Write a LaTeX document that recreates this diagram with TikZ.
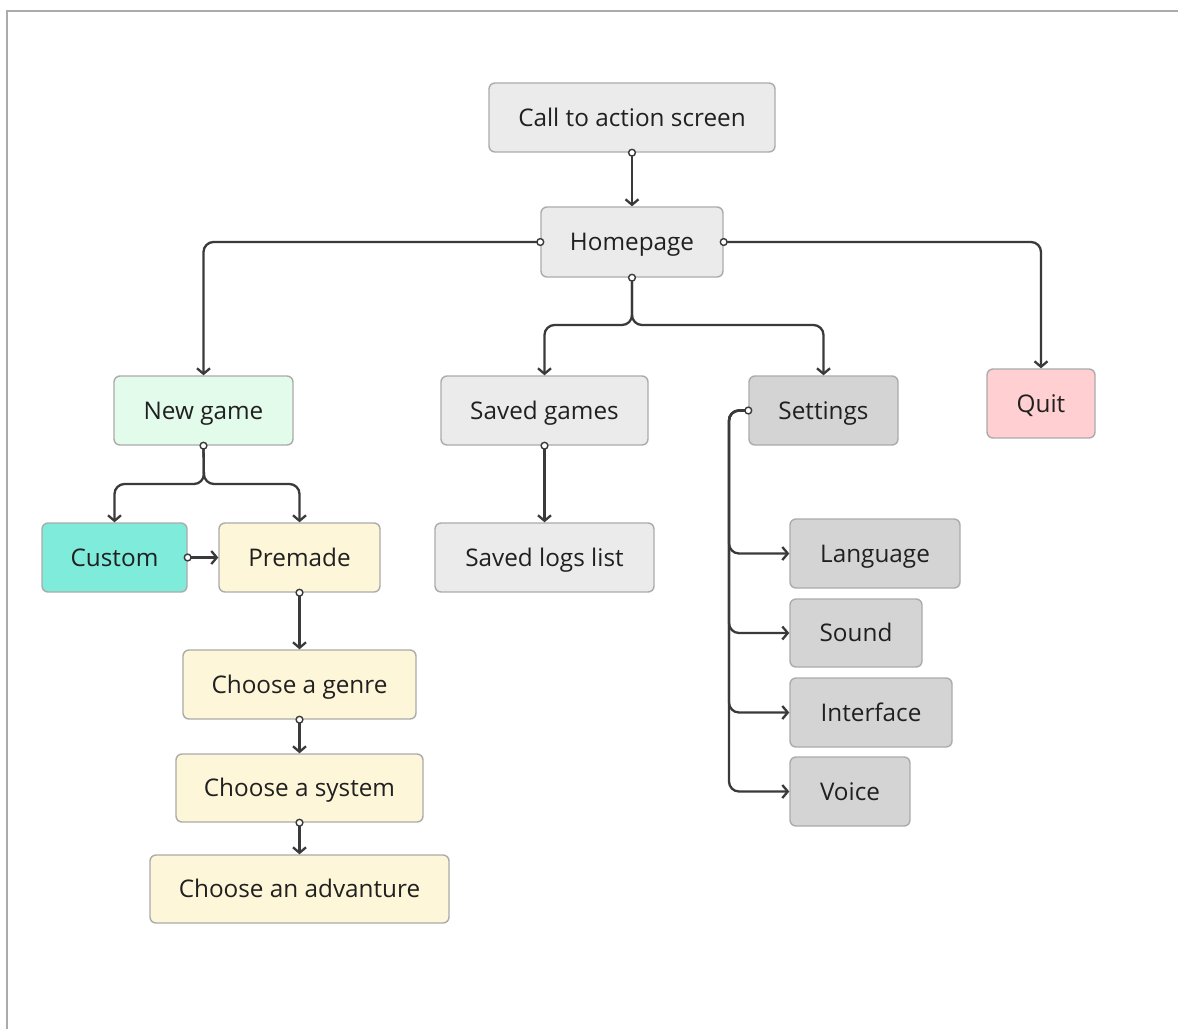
\documentclass[tikz,border=0pt]{standalone}
\usepackage{fontspec}
\setmainfont{Open Sans}
\usetikzlibrary{arrows.meta}
\definecolor{lgray}{HTML}{EBEBEB}
\definecolor{mgray}{HTML}{D4D4D4}
\definecolor{bord}{HTML}{ABABAB}
\definecolor{lgreen}{HTML}{E3FBEA}
\definecolor{teal}{HTML}{7EEBDB}
\definecolor{lyellow}{HTML}{FDF6D8}
\definecolor{pink}{HTML}{FFCFD1}
\definecolor{linec}{HTML}{3A3A3A}
\definecolor{txt}{HTML}{202020}
\tikzset{
  box/.style={draw=bord, line width=1.4pt, rounded corners=6pt, inner sep=0pt,
    text=txt, font=\fontsize{24.3}{28}\selectfont, anchor=center,
    text height=17pt, text depth=0pt},
  conn/.style={draw=linec, line width=2.3pt, rounded corners=10pt,
    -{Straight Barb[length=5.5pt,width=13pt]}},
  dot/.style={draw=linec, fill=white, line width=1.4pt},
}
\newcommand{\sdot}[1]{\filldraw[dot] (#1) circle (3.4pt);}
\begin{document}
\begin{tikzpicture}[x=1pt,y=-1pt]
\useasboundingbox (0,0) rectangle (1178,1029);
\draw[bord, line width=2pt] (7,1029) -- (7,11) -- (1178,11);

\node[box, fill=lgray, minimum width=286pt, minimum height=69pt] (cta) at (632,117.5) {Call to action screen};
\node[box, fill=lgray, minimum width=182pt, minimum height=70pt] (home) at (632,242) {Homepage};
\node[box, fill=lgreen, minimum width=179pt, minimum height=69pt] (newg) at (203.5,410.5) {New game};
\node[box, fill=lgray, minimum width=207pt, minimum height=69pt] (saved) at (544.5,410.5) {Saved games};
\node[box, fill=mgray, minimum width=149pt, minimum height=69pt] (sett) at (823.5,410.5) {Settings};
\node[box, fill=pink, minimum width=108pt, minimum height=69pt] (quit) at (1041,403.5) {Quit};
\node[box, fill=teal, minimum width=145pt, minimum height=69pt] (cust) at (114.5,557.5) {Custom};
\node[box, fill=lyellow, minimum width=161pt, minimum height=69pt] (prem) at (299.5,557.5) {Premade};
\node[box, fill=lgray, minimum width=219pt, minimum height=69pt] (logs) at (544.5,557.5) {Saved logs list};
\node[box, fill=mgray, minimum width=170pt, minimum height=69pt] (lang) at (875,553.5) {Language};
\node[box, fill=mgray, minimum width=132pt, minimum height=68pt] (sound) at (856,633) {Sound};
\node[box, fill=mgray, minimum width=162pt, minimum height=69pt] (inter) at (871,712.5) {Interface};
\node[box, fill=mgray, minimum width=120pt, minimum height=69pt] (voice) at (850,791.5) {Voice};
\node[box, fill=lyellow, minimum width=233pt, minimum height=69pt] (genre) at (299.5,684.5) {Choose a genre};
\node[box, fill=lyellow, minimum width=247pt, minimum height=68pt] (syst) at (299.5,788) {Choose a system};
\node[box, fill=lyellow, minimum width=299pt, minimum height=68pt] (adv) at (299.5,889) {Choose an advanture};

\coordinate (hfork) at (632,325);
\coordinate (nfork) at (204,484);
\coordinate (sbus) at (729,410.5);

\draw[conn] (cta.south) -- (home.north);
\draw[conn] (home.west) -| (newg.north);
\draw[conn] (home.east) -| (quit.north);
\draw[conn] (home.south) -- (hfork) -| (saved.north);
\draw[conn] (home.south) -- (hfork) -| (sett.north);
\draw[conn] (newg.south) -- (nfork) -| (cust.north);
\draw[conn] (newg.south) -- (nfork) -| (prem.north);
\draw[conn] (cust.east) -- (prem.west);
\draw[conn] (prem.south) -- (genre.north);
\draw[conn] (genre.south) -- (syst.north);
\draw[conn] (syst.south) -- (adv.north);
\draw[conn] (saved.south) -- (logs.north);
\draw[conn] (sett.west) -- (sbus) |- (lang.west);
\draw[conn] (sett.west) -- (sbus) |- (sound.west);
\draw[conn] (sett.west) -- (sbus) |- (inter.west);
\draw[conn] (sett.west) -- (sbus) |- (voice.west);

\sdot{cta.south}
\sdot{home.west}
\sdot{home.east}
\sdot{home.south}
\sdot{newg.south}
\sdot{cust.east}
\sdot{prem.south}
\sdot{genre.south}
\sdot{syst.south}
\sdot{saved.south}
\sdot{sett.west}
\end{tikzpicture}
\end{document}
